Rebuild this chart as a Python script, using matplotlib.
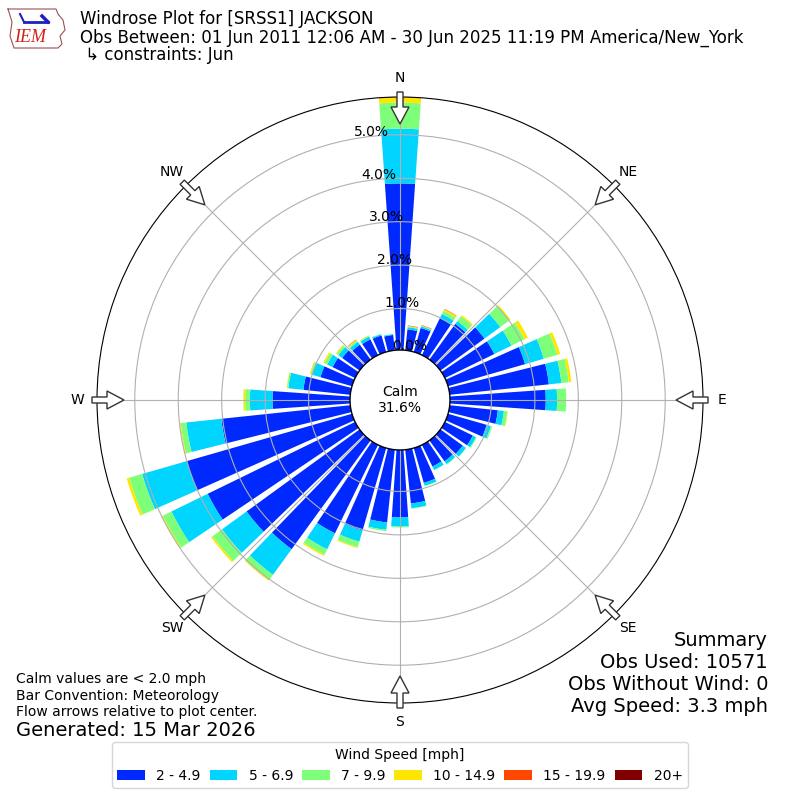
import numpy as np
import matplotlib
matplotlib.use("Agg")
import matplotlib.pyplot as plt
from matplotlib.patches import Circle, Polygon, Patch
from matplotlib.lines import Line2D

# ---------------- data ----------------
directions = np.arange(0, 360, 10)  # degrees, meteorological (from)
speed_labels = ["2 - 4.9", "5 - 6.9", "7 - 9.9", "10 - 14.9", "15 - 19.9", "20+"]

spd_2_5 = [3.88, 0.53, 0.62, 0.99, 1.06, 1.30, 1.31, 1.89, 2.34, 2.25, 1.16, 0.97,
           0.76, 0.68, 0.64, 0.60, 0.88, 1.29, 1.60, 1.73, 2.02, 2.31, 3.14, 3.26,
           3.82, 4.00, 3.03, 1.83, 1.13, 0.80, 0.62, 0.54, 0.47, 0.45, 0.44, 0.40]
spd_5_7 = [1.26, 0.05, 0.04, 0.11, 0.08, 0.45, 0.44, 0.45, 0.29, 0.26, 0.14, 0.10,
           0.08, 0.09, 0.08, 0.09, 0.07, 0.11, 0.21, 0.17, 0.27, 0.41, 0.73, 0.70,
           0.93, 1.07, 0.81, 0.52, 0.35, 0.20, 0.14, 0.11, 0.08, 0.07, 0.03, 0.02]
spd_7_10 = [0.60, 0.02, 0.01, 0.08, 0.14, 0.24, 0.33, 0.32, 0.17, 0.21, 0.08, 0.03,
            0.02, 0.01, 0.01, 0.00, 0.01, 0.01, 0.02, 0.03, 0.13, 0.14, 0.15, 0.27,
            0.22, 0.31, 0.13, 0.11, 0.03, 0.04, 0.07, 0.05, 0.04, 0.02, 0.01, 0.00]
spd_10_15 = [0.12, 0.01, 0.01, 0.04, 0.03, 0.05, 0.09, 0.07, 0.06, 0.00, 0.01, 0.00,
             0.00, 0.00, 0.00, 0.00, 0.00, 0.00, 0.00, 0.00, 0.02, 0.03, 0.02, 0.04,
             0.03, 0.06, 0.02, 0.04, 0.01, 0.02, 0.03, 0.02, 0.02, 0.01, 0.00, 0.00]
spd_15_20 = [0.01, 0.01, 0.01, 0.01, 0.00, 0.00, 0.00, 0.00, 0.00, 0.00, 0.00, 0.00,
             0.00, 0.00, 0.00, 0.00, 0.00, 0.00, 0.00, 0.00, 0.00, 0.00, 0.00, 0.00,
             0.00, 0.00, 0.00, 0.00, 0.00, 0.00, 0.00, 0.00, 0.01, 0.00, 0.00, 0.00]
spd_20p = [0.0] * 36

calm_pct = 31.6
compass_labels = ["N", "NE", "E", "SE", "S", "SW", "W", "NW"]
ring_values = [0, 1, 2, 3, 4, 5]

# ---------------- figure ----------------
fig = plt.figure(figsize=(8, 8), dpi=100)
R_AX = 0.7575
ax = fig.add_axes([0.5 - R_AX / 2, 0.5 - R_AX / 2, R_AX, R_AX], projection="polar")
ax.set_theta_zero_location("N")
ax.set_theta_direction(-1)

series = [spd_2_5, spd_5_7, spd_7_10, spd_10_15, spd_15_20, spd_20p]
colors = plt.get_cmap("jet")(np.linspace(1 / 6.0, 1.0, 6))
theta = np.deg2rad(directions)
width = np.deg2rad(10) * 0.8
bottom = np.zeros(len(directions))
for vals, col, lab in zip(series, colors, speed_labels):
    v = np.asarray(vals, dtype=float)
    ax.bar(theta, v, width=width, bottom=bottom, color=col, linewidth=0, label=lab)
    bottom = bottom + v

rmax = bottom.max()
ax.set_ylim(0, rmax)
ax.set_rorigin(-rmax * 48.0 / 255.0)
ax.set_yticks(ring_values)
ax.set_yticklabels(["%.1f%%" % r for r in ring_values], fontsize=10)
ax.set_rlabel_position(-10)
ax.set_xticks(np.deg2rad(np.arange(0, 360, 45)))
ax.set_xticklabels(compass_labels, fontsize=10)
ax.tick_params(axis="x", pad=3.5)
ax.grid(True, color="#b0b0b0", linewidth=0.8)

# calm circle
calm = Circle((0.5, 0.5), 50 / 606.0, transform=ax.transAxes, facecolor="white",
              edgecolor="black", linewidth=1.0, zorder=5, clip_on=False)
ax.add_patch(calm)
ax.text(0.5, 0.5, "Calm\n%.1f%%" % calm_pct, transform=ax.transAxes, ha="center",
        va="center", fontsize=10, zorder=6)

# flow arrows at the 8 compass points
for a in np.arange(0, 360, 45):
    ar = np.deg2rad(a)
    ux, uy = np.sin(ar), np.cos(ar)
    px_, py_ = np.cos(ar), -np.sin(ar)
    pts_rp = [(308, -3), (293, -3), (293, -9), (276, 0), (293, 9), (293, 3), (308, 3)]
    pts = [(0.5 + (rr * ux + pp * px_) / 606.0, 0.5 + (rr * uy + pp * py_) / 606.0)
           for rr, pp in pts_rp]
    ax.add_patch(Polygon(pts, closed=True, transform=ax.transAxes, facecolor="white",
                         edgecolor="#333333", linewidth=1.0, zorder=7, clip_on=False))

# ---------------- texts ----------------
def fy(px):
    return 1 - px / 800.0

fig.text(0.1, fy(19.5), "Windrose Plot for [SRSS1] JACKSON", fontsize=12, va="center")
fig.text(0.1, fy(37.5), "Obs Between: 01 Jun 2011 12:06 AM - 30 Jun 2025 11:19 PM America/New_York",
         fontsize=12, va="center")
fig.text(0.1, fy(55.5), " \u21b3 constraints: Jun", fontsize=12, va="center")

fig.text(0.02, fy(679), "Calm values are < 2.0 mph", fontsize=10, va="center")
fig.text(0.02, fy(696), "Bar Convention: Meteorology", fontsize=10, va="center")
fig.text(0.02, fy(712), "Flow arrows relative to plot center.", fontsize=10, va="center")
fig.text(0.02, fy(730), "Generated: 15 Mar 2026", fontsize=14, va="center")

for txt, yy in zip(["Summary", "Obs Used: 10571", "Obs Without Wind: 0", "Avg Speed: 3.3 mph"],
                   [640, 662, 684, 706]):
    fig.text(0.96, fy(yy), txt, fontsize=14, ha="right", va="center")

# legend
handles = [Patch(facecolor=c, label=l) for c, l in zip(colors, speed_labels)]
fig.legend(handles=handles, loc="lower center", bbox_to_anchor=(0.5, 0.006), ncol=6,
           title="Wind Speed [mph]", fontsize=10, title_fontsize=10, columnspacing=0.65)

# simple logo
logo_x = [8, 56, 58, 63, 65, 60, 62, 58, 14, 10, 12, 8]
logo_y = [9, 9, 14, 20, 30, 36, 44, 48, 48, 36, 22, 9]
fig.add_artist(Line2D([x / 800.0 for x in logo_x], [fy(y) for y in logo_y],
                      color="#a05050", linewidth=0.8))
fig.add_artist(Line2D([24 / 800.0, 48 / 800.0], [fy(22), fy(22)], color="#2020c0", linewidth=2))
fig.add_artist(Line2D([20 / 800.0, 24 / 800.0], [fy(14), fy(22)], color="#2020c0", linewidth=1.5))
fig.add_artist(Line2D([42 / 800.0, 48 / 800.0], [fy(16), fy(22)], color="#2020c0", linewidth=2.5))
fig.text(30 / 800.0, fy(38), "IEM", fontsize=13, color="#d02020", family="Liberation Serif",
         style="italic", ha="center", va="center")

fig.savefig("out.png", dpi=100)
